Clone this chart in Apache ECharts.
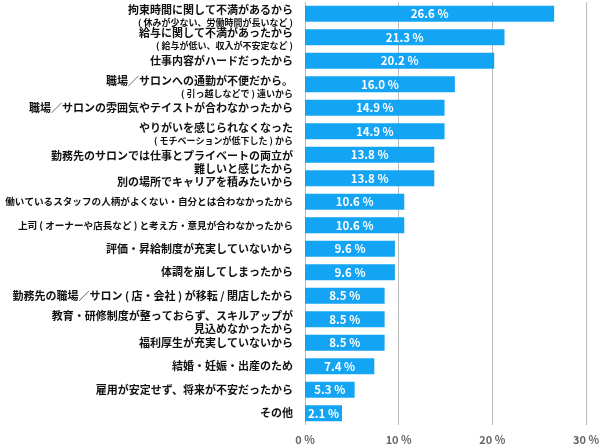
<!DOCTYPE html>
<html><head><meta charset="utf-8">
<script src="https://cdn.jsdelivr.net/npm/echarts@6/dist/echarts.min.js"></script>
<style>html,body{margin:0;padding:0;background:#fff}#c{width:600px;height:448px}</style>
</head><body><div id="c"></div>
<script>
const categories = [
  "拘束時間に関して不満があるから\n( 休みが少ない、労働時間が長いなど )",
  "給与に関して不満があったから\n( 給与が低い、収入が不安定など )",
  "仕事内容がハードだったから",
  "職場／サロンへの通勤が不便だから。\n( 引っ越しなどで ) 遠いから",
  "職場／サロンの雰囲気やテイストが合わなかったから",
  "やりがいを感じられなくなった\n( モチベーションが低下した ) から",
  "勤務先のサロンでは仕事とプライベートの両立が\n難しいと感じたから",
  "別の場所でキャリアを積みたいから",
  "働いているスタッフの人柄がよくない・自分とは合わなかったから",
  "上司 ( オーナーや店長など ) と考え方・意見が合わなかったから",
  "評価・昇給制度が充実していないから",
  "体調を崩してしまったから",
  "勤務先の職場／サロン ( 店・会社 ) が移転 / 閉店したから",
  "教育・研修制度が整っておらず、スキルアップが\n見込めなかったから",
  "福利厚生が充実していないから",
  "結婚・妊娠・出産のため",
  "雇用が安定せず、将来が不安だったから",
  "その他"
];
const values = [26.6, 21.3, 20.2, 16.0, 14.9, 14.9, 13.8, 13.8, 10.6, 10.6, 9.6, 9.6, 8.5, 8.5, 8.5, 7.4, 5.3, 2.1];
const xTicks = [0, 10, 20, 30];

// layout-only: downward nudge (px) of some category labels
const labelNudge = {0: 2, 1: 2, 3: 3, 5: 3, 6: 8, 7: 4, 13: 3};

const chart = echarts.init(document.getElementById('c'), null, {renderer: 'canvas'});
const FONT = '"Noto Sans CJK JP", "Noto Sans", sans-serif';
const rich = {
  a: {fontSize: 11, fontWeight: 'bold', fontFamily: FONT, color: '#111', lineHeight: 13},
  l: {fontSize: 9.6, fontWeight: 'bold', fontFamily: FONT, color: '#111', lineHeight: 13},
  s: {fontSize: 9, fontWeight: 'bold', fontFamily: FONT, color: '#111', lineHeight: 12}
};
for (let n = 1; n <= 20; n++) rich['g' + n] = {fontSize: 1, lineHeight: n, color: 'rgba(0,0,0,0)'};

chart.setOption({
  animation: false,
  grid: {left: 305, right: 14, top: 2, bottom: 23, containLabel: false, outerBoundsMode: 'none'},
  xAxis: {
    type: 'value', min: xTicks[0], max: xTicks[xTicks.length - 1], interval: 10,
    axisLine: {show: false}, axisTick: {show: false},
    splitLine: {show: true, lineStyle: {color: '#bdbdbd', width: 1}},
    axisLabel: {formatter: '{value} %', color: '#666', fontSize: 11, fontWeight: 'bold', fontFamily: FONT, margin: 9}
  },
  yAxis: {
    type: 'category', data: categories, inverse: true,
    axisLine: {show: false}, axisTick: {show: false},
    axisLabel: {
      interval: 0, showMinLabel: true, showMaxLabel: true, hideOverlap: false,
      margin: 12, color: '#111', fontFamily: FONT,
      formatter: function (v, i) {
        const lines = v.split('\n');
        let out = lines.map(function (l) {
          if (l.charAt(0) === '(') return '{s|' + l + '}';
          if (l.replace(/ /g, '').length > 27) return '{l|' + l + '}';
          return '{a|' + l + '}';
        }).join('\n');
        const nudge = labelNudge[i];
        if (nudge) out = '{g' + (nudge * 2) + '| }\n' + out;
        return out;
      },
      rich: rich
    }
  },
  series: [{
    type: 'bar', data: values, barCategoryGap: '32%', barMinHeight: 37,
    itemStyle: {color: '#13a4f4'},
    label: {show: true, position: 'inside',
      formatter: function (p) { return p.value.toFixed(1) + ' %'; },
      color: '#fff', fontSize: 11.5, fontWeight: 'bold', fontFamily: FONT}
  }]
});
</script></body></html>
